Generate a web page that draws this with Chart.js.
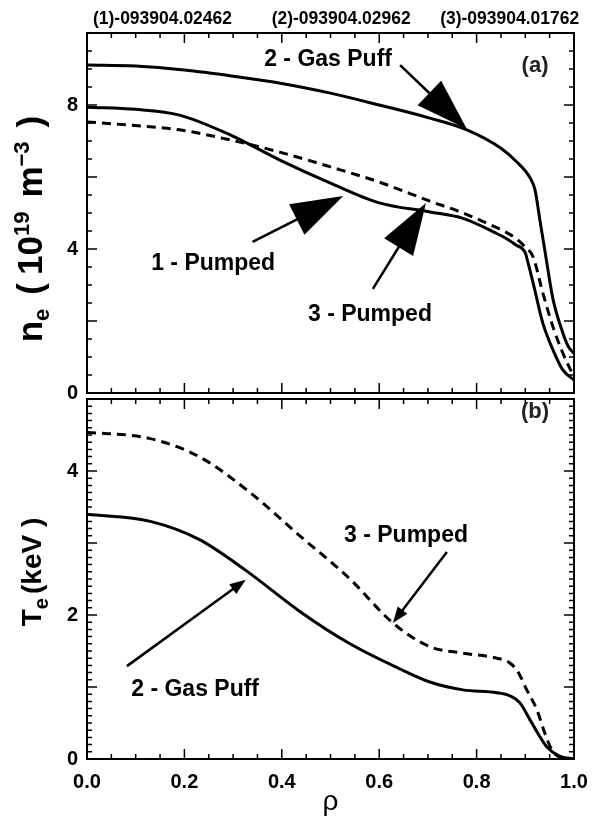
<!DOCTYPE html>
<html><head><meta charset="utf-8">
<script src="https://cdn.jsdelivr.net/npm/chart.js@4.4.1/dist/chart.umd.min.js"></script>
<style>
html,body{margin:0;padding:0;background:#fff;width:599px;height:821px;overflow:hidden}
canvas{position:absolute;left:0;top:0}
</style></head><body>
<canvas id="ca" width="599" height="821"></canvas>
<canvas id="cb" width="599" height="821"></canvas>
<script>
// ---------- data (panel a: electron density, 1e19 m^-3) ----------
const rhoGasNe  = [0, 0.1, 0.2, 0.3, 0.4, 0.5, 0.6, 0.7, 0.78, 0.85, 0.88, 0.91, 0.92, 0.93, 0.94, 0.957, 0.975, 0.988, 1.0];
const neGas     = [9.11, 9.08, 8.97, 8.8, 8.6, 8.33, 8.0, 7.65, 7.31, 6.8, 6.45, 5.97, 5.64, 4.8, 3.97, 2.6, 1.75, 1.3, 1.1];
const rhoPump1Ne = [0, 0.1, 0.19, 0.294, 0.396, 0.5, 0.6, 0.704, 0.772, 0.84, 0.86, 0.88, 0.9, 0.905, 0.916, 0.936, 0.957, 0.977, 1.0];
const nePump1    = [7.94, 7.88, 7.72, 7.17, 6.47, 5.83, 5.28, 5.03, 4.85, 4.44, 4.30, 4.12, 3.89, 3.65, 3.06, 1.94, 1.19, 0.64, 0.36];
const rhoPump3Ne = [0, 0.088, 0.19, 0.294, 0.396, 0.5, 0.6, 0.704, 0.772, 0.84, 0.86, 0.88, 0.9, 0.916, 0.936, 0.957, 0.977, 1.0];
const nePump3    = [7.53, 7.44, 7.31, 7.03, 6.69, 6.28, 5.86, 5.33, 5.0, 4.6, 4.47, 4.3, 4.05, 3.78, 2.78, 1.83, 1.11, 0.44];
// ---------- data (panel b: electron temperature, keV) ----------
const rhoGasTe  = [0, 0.13, 0.23, 0.326, 0.437, 0.54, 0.643, 0.704, 0.772, 0.842, 0.869, 0.889, 0.91, 0.93, 0.944, 0.97, 1.0];
const teGas     = [3.40, 3.30, 3.05, 2.62, 2.05, 1.6, 1.25, 1.07, 0.96, 0.92, 0.875, 0.78, 0.54, 0.31, 0.17, 0.04, 0.0];
const rhoPump3Te = [0, 0.13, 0.23, 0.335, 0.437, 0.54, 0.628, 0.704, 0.772, 0.842, 0.869, 0.885, 0.903, 0.924, 0.94, 0.955, 0.97, 1.0];
const tePump3    = [4.54, 4.45, 4.2, 3.7, 3.1, 2.5, 1.89, 1.56, 1.47, 1.40, 1.33, 1.21, 0.96, 0.68, 0.36, 0.12, 0.03, 0.0];
// ---------- ticks / labels ----------
const xTickLabels = [0, 0.2, 0.4, 0.6, 0.8, 1.0];
const neTickLabels = [0, 4, 8];
const teTickLabels = [0, 2, 4];
const shotLabels = ['(1)-093904.02462', '(2)-093904.02962', '(3)-093904.01762'];
const shotLabelRho = [0.155, 0.522, 0.868];

const FONT = '"Liberation Sans", Arial, Helvetica, sans-serif';
const pts = (xs, ys) => xs.map((x, i) => ({x, y: ys[i]}));

function drawParts(ctx, parts, cx, cy, rot) {
  ctx.save();
  ctx.translate(cx, cy);
  ctx.rotate(rot);
  let total = 0;
  parts.forEach(p => { ctx.font = p.f; total += ctx.measureText(p.t).width + (p.gap || 0); });
  let x = -total / 2;
  ctx.textBaseline = 'alphabetic';
  ctx.textAlign = 'left';
  ctx.fillStyle = '#000';
  parts.forEach(p => { ctx.font = p.f; ctx.fillText(p.t, x, (p.dy || 0)); x += ctx.measureText(p.t).width + (p.gap || 0); });
  ctx.restore();
}

function arrow(ctx, x0, y0, x1, y1, hl, hw, lw) {
  const dx = x1 - x0, dy = y1 - y0, L = Math.hypot(dx, dy);
  const ux = dx / L, uy = dy / L, px = -uy, py = ux;
  const bx = x1 - ux * hl, by = y1 - uy * hl;
  ctx.save();
  ctx.strokeStyle = '#000'; ctx.fillStyle = '#000'; ctx.lineWidth = lw;
  ctx.beginPath(); ctx.moveTo(x0, y0); ctx.lineTo(bx + ux * 2, by + uy * 2); ctx.stroke();
  ctx.beginPath(); ctx.moveTo(x1, y1); ctx.lineTo(bx + px * hw, by + py * hw); ctx.lineTo(bx - px * hw, by - py * hw); ctx.closePath(); ctx.fill();
  ctx.restore();
}

function text(ctx, s, x, y, size, color) {
  ctx.save();
  ctx.font = 'bold ' + size + 'px ' + FONT;
  ctx.fillStyle = color || '#000';
  ctx.textAlign = 'center'; ctx.textBaseline = 'middle';
  ctx.fillText(s, x, y);
  ctx.restore();
}

function framePlugin(cfg) {
  return {
    id: 'frame' + cfg.name,
    afterDraw(chart) {
      const ctx = chart.ctx, a = chart.chartArea, xs = chart.scales.x, ys = chart.scales.y;
      ctx.save();
      ctx.strokeStyle = '#000';
      ctx.lineWidth = 2;
      ctx.strokeRect(a.left, a.top, a.right - a.left, a.bottom - a.top);
      ctx.lineWidth = 1.5;
      ctx.beginPath();
      for (let i = 0; i <= 20; i++) {
        const v = i * 0.05, px = xs.getPixelForValue(v), len = (i % 4 === 0) ? 10 : 5;
        ctx.moveTo(px, a.bottom); ctx.lineTo(px, a.bottom - len);
        ctx.moveTo(px, a.top); ctx.lineTo(px, a.top + len);
      }
      const nMinor = Math.round(cfg.yMax / cfg.yMinor);
      const every = Math.round(cfg.yMajor / cfg.yMinor);
      for (let i = 0; i <= nMinor; i++) {
        const v = i * cfg.yMinor, py = ys.getPixelForValue(v), len = (i % every === 0) ? 10 : 5;
        ctx.moveTo(a.left, py); ctx.lineTo(a.left + len, py);
        ctx.moveTo(a.right, py); ctx.lineTo(a.right - len, py);
      }
      ctx.stroke();
      ctx.restore();
      cfg.extra(chart, ctx, xs, ys);
    }
  };
}

const tickFont = {family: FONT, size: 20, weight: 'bold'};

// ---------------- panel (a) ----------------
new Chart(document.getElementById('ca'), {
  type: 'line',
  data: {datasets: [
    {data: pts(rhoGasNe, neGas), borderColor: '#000', borderWidth: 3, pointRadius: 0, cubicInterpolationMode: 'monotone'},
    {data: pts(rhoPump1Ne, nePump1), borderColor: '#000', borderWidth: 3, pointRadius: 0, cubicInterpolationMode: 'monotone'},
    {data: pts(rhoPump3Ne, nePump3), borderColor: '#000', borderWidth: 3, borderDash: [9, 6], pointRadius: 0, cubicInterpolationMode: 'monotone'}
  ]},
  options: {
    responsive: false, animation: false, devicePixelRatio: 1,
    layout: {padding: {left: 0, right: 25, top: 33, bottom: 821 - 393}},
    plugins: {legend: {display: false}, tooltip: {enabled: false}},
    scales: {
      x: {type: 'linear', min: 0, max: 1, display: false},
      y: {type: 'linear', min: 0, max: 10,
          afterFit: s => { s.width = 87; },
          afterBuildTicks: s => { s.ticks = neTickLabels.map(v => ({value: v})); },
          grid: {display: false, drawTicks: false}, border: {display: false},
          ticks: {font: tickFont, color: '#000', padding: 9}}
    }
  },
  plugins: [framePlugin({name: 'a', yMax: 10, yMinor: 0.5, yMajor: 2, extra(chart, ctx, xs, ys) {
    const X = v => xs.getPixelForValue(v), Y = v => ys.getPixelForValue(v);
    shotLabels.forEach((s, i) => text(ctx, s, X(shotLabelRho[i]), 19, 17.5));
    text(ctx, '(a)', X(0.92), Y(9.08), 22, '#222');
    text(ctx, '2 - Gas Puff', X(0.495), Y(9.25), 23);
    arrow(ctx, X(0.643), Y(9.11), X(0.780), Y(7.33), 52, 17, 2.5);
    text(ctx, '1 - Pumped', X(0.259), Y(3.6), 23);
    arrow(ctx, X(0.340), Y(4.2), X(0.526), Y(5.47), 52, 17, 2.5);
    text(ctx, '3 - Pumped', X(0.581), Y(2.17), 23);
    arrow(ctx, X(0.587), Y(2.89), X(0.696), Y(5.28), 52, 17, 2.5);
    const B = s => 'bold ' + s + 'px ' + FONT;
    drawParts(ctx, [
      {t: 'n', f: B(35)}, {t: 'e', f: B(22), dy: 7, gap: 14},
      {t: '(', f: B(35), gap: 8}, {t: '10', f: B(35)}, {t: '19', f: B(22), dy: -13, gap: 14},
      {t: 'm', f: B(35)}, {t: '\u22123', f: B(22), dy: -13, gap: 14},
      {t: ')', f: B(35)}
    ], 42, 229, -Math.PI / 2);
  }})]
});

// ---------------- panel (b) ----------------
new Chart(document.getElementById('cb'), {
  type: 'line',
  data: {datasets: [
    {data: pts(rhoGasTe, teGas), borderColor: '#000', borderWidth: 3, pointRadius: 0, cubicInterpolationMode: 'monotone'},
    {data: pts(rhoPump3Te, tePump3), borderColor: '#000', borderWidth: 3, borderDash: [9, 6], pointRadius: 0, cubicInterpolationMode: 'monotone'}
  ]},
  options: {
    responsive: false, animation: false, devicePixelRatio: 1,
    layout: {padding: {left: 0, right: 25, top: 399, bottom: 22}},
    plugins: {legend: {display: false}, tooltip: {enabled: false}},
    scales: {
      x: {type: 'linear', min: 0, max: 1,
          afterFit: s => { s.height = 40; },
          afterBuildTicks: s => { s.ticks = xTickLabels.map(v => ({value: v})); },
          grid: {display: false, drawTicks: false}, border: {display: false},
          ticks: {font: tickFont, color: '#000', padding: 11, maxRotation: 0, callback: v => v.toFixed(1)}},
      y: {type: 'linear', min: 0, max: 5,
          afterFit: s => { s.width = 87; },
          afterBuildTicks: s => { s.ticks = teTickLabels.map(v => ({value: v})); },
          grid: {display: false, drawTicks: false}, border: {display: false},
          ticks: {font: tickFont, color: '#000', padding: 9}}
    }
  },
  plugins: [framePlugin({name: 'b', yMax: 5, yMinor: 0.1, yMajor: 1, extra(chart, ctx, xs, ys) {
    const X = v => xs.getPixelForValue(v), Y = v => ys.getPixelForValue(v);
    text(ctx, '(b)', X(0.92), Y(4.82), 22, '#222');
    text(ctx, '3 - Pumped', X(0.655), Y(3.10), 23);
    arrow(ctx, X(0.739), Y(2.875), X(0.628), Y(1.89), 16, 6, 2.5);
    text(ctx, '2 - Gas Puff', X(0.222), Y(0.96), 23);
    arrow(ctx, X(0.082), Y(1.29), X(0.326), Y(2.49), 16, 6, 2.5);
    const B = s => 'bold ' + s + 'px ' + FONT;
    drawParts(ctx, [
      {t: 'T', f: B(28)}, {t: 'e', f: B(20), dy: 7, gap: 4},
      {t: '(keV )', f: B(28)}
    ], 41, 572, -Math.PI / 2);
    ctx.save();
    ctx.font = '28px ' + FONT; ctx.fillStyle = '#000'; ctx.textAlign = 'center'; ctx.textBaseline = 'alphabetic';
    ctx.fillText('\u03c1', X(0.5), 810);
    ctx.restore();
  }})]
});
</script>
</body></html>
